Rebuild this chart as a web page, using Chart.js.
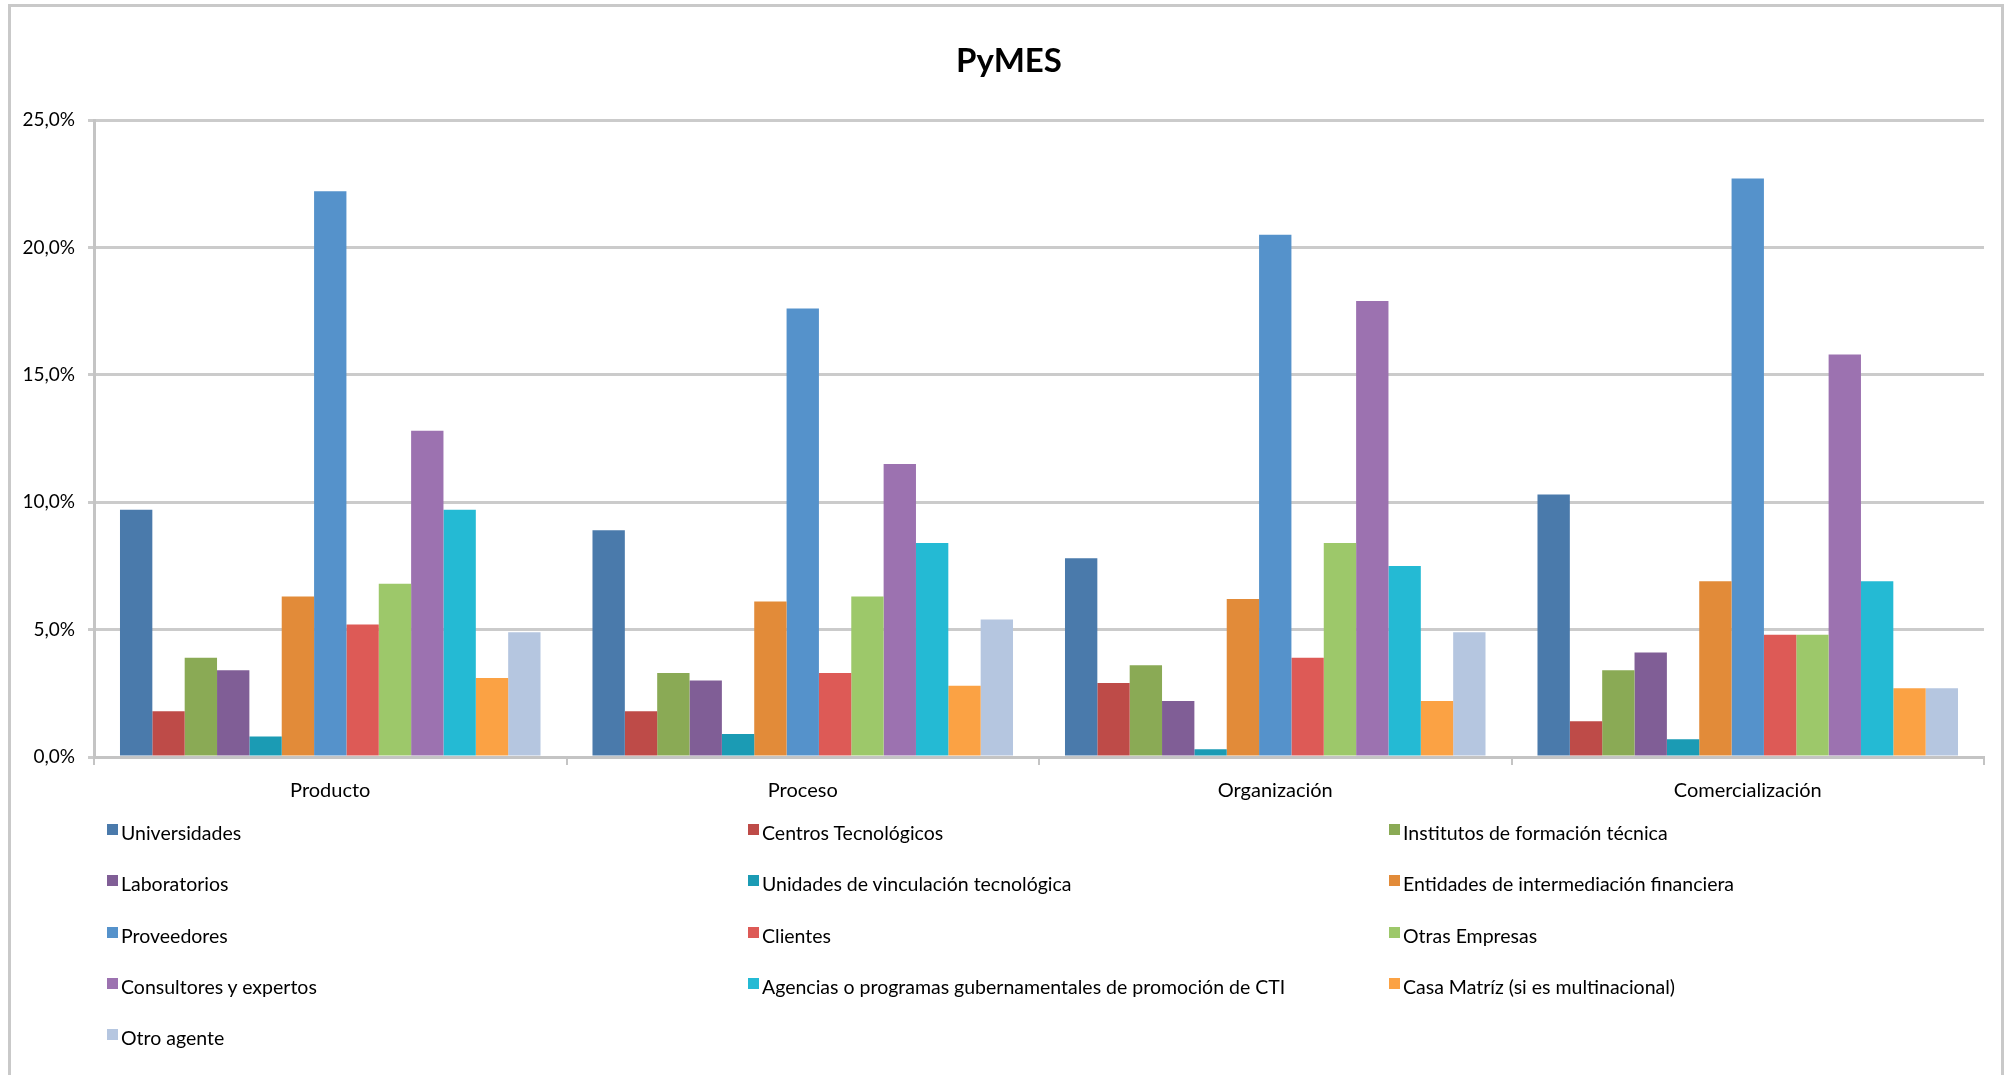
<!DOCTYPE html>
<html>
<head>
<meta charset="utf-8">
<script src="https://cdn.jsdelivr.net/npm/chart.js@4.4.1/dist/chart.umd.min.js"></script>
<style>
  html, body { margin: 0; padding: 0; background: #fff; }
  body { width: 2010px; height: 1075px; position: relative; overflow: hidden; font-family: Lato, "Open Sans", sans-serif; }
  #marco { position: absolute; left: 8px; top: 4px; width: 1996px; height: 1080px; border: 3px solid #c9c9c9; border-bottom: none; box-sizing: border-box; }
  #wrap { position: absolute; left: 0; top: 0; width: 2010px; height: 814px; }
  #leyenda { position: absolute; left: 107px; top: 807px; display: grid; grid-template-columns: repeat(3, 641px); grid-auto-rows: 51.3px; }
  .item { display: flex; align-items: center; font-size: 19.5px; color: #000; white-space: nowrap; }
  .caja { width: 11px; height: 11px; margin-right: 3px; margin-top: -6px; flex: none; }
</style>
</head>
<body>
<div id="marco"></div>
<div id="wrap"><canvas id="grafico"></canvas></div>
<div id="leyenda"></div>
<script>
// categorias (eje x)
const categorias = ['Producto', 'Proceso', 'Organización', 'Comercialización'];

// agentes de vinculacion (series)
const agentes = [
  'Universidades', 'Centros Tecnológicos', 'Institutos de formación técnica',
  'Laboratorios', 'Unidades de vinculación tecnológica', 'Entidades de intermediación financiera',
  'Proveedores', 'Clientes', 'Otras Empresas',
  'Consultores y expertos', 'Agencias o programas gubernamentales de promoción de CTI', 'Casa Matríz (si es multinacional)',
  'Otro agente'
];

// valores en % por agente: [Producto, Proceso, Organización, Comercialización]
const universidades = [9.7, 8.9, 7.8, 10.3];
const centrosTecnologicos = [1.8, 1.8, 2.9, 1.4];
const institutos = [3.9, 3.3, 3.6, 3.4];
const laboratorios = [3.4, 3.0, 2.2, 4.1];
const unidadesVinculacion = [0.8, 0.9, 0.3, 0.7];
const entidadesFinancieras = [6.3, 6.1, 6.2, 6.9];
const proveedores = [22.2, 17.6, 20.5, 22.7];
const clientes = [5.2, 3.3, 3.9, 4.8];
const otrasEmpresas = [6.8, 6.3, 8.4, 4.8];
const consultores = [12.8, 11.5, 17.9, 15.8];
const agencias = [9.7, 8.4, 7.5, 6.9];
const casaMatriz = [3.1, 2.8, 2.2, 2.7];
const otroAgente = [4.9, 5.4, 4.9, 2.7];

// ticks del eje y
const ticksY = [0, 5, 10, 15, 20, 25];

const series = [universidades, centrosTecnologicos, institutos, laboratorios, unidadesVinculacion,
  entidadesFinancieras, proveedores, clientes, otrasEmpresas, consultores, agencias, casaMatriz, otroAgente];

const colores = ['#4a7aab', '#be4b48', '#8aaa55', '#805e96', '#1b9bb4', '#e28b39',
  '#5592cb', '#dd5a56', '#9dc86a', '#9c72b0', '#24bad4', '#fba244', '#b5c6e0'];

const fuente = 'Lato, "Open Sans", sans-serif';

// titulo dibujado a mano, centrado en la pagina (no en el area del grafico)
const tituloPlugin = {
  id: 'tituloPyMES',
  afterDraw(chart) {
    const ctx = chart.ctx;
    ctx.save();
    ctx.font = 'bold 33px ' + fuente;
    ctx.fillStyle = '#000';
    ctx.textAlign = 'center';
    ctx.textBaseline = 'middle';
    ctx.fillText('PyMES', 1009, 61);
    ctx.restore();
  }
};

const grafico = new Chart(document.getElementById('grafico'), {
  type: 'bar',
  data: {
    labels: categorias,
    datasets: agentes.map((nombre, i) => ({
      label: nombre,
      data: series[i],
      backgroundColor: colores[i],
      borderWidth: 0,
      barPercentage: 1.0,
      categoryPercentage: 0.89
    }))
  },
  options: {
    responsive: true,
    maintainAspectRatio: false,
    animation: false,
    layout: { padding: { left: 0, right: 26, top: 120, bottom: 0 } },
    plugins: {
      legend: { display: false }, // leyenda en html abajo
      tooltip: { enabled: false },
      title: { display: false }
    },
    scales: {
      x: {
        grid: { offset: true, drawOnChartArea: false, drawTicks: true, tickLength: 8, color: '#c4c4c4', lineWidth: 2 },
        border: { color: '#c4c4c4', width: 3 },
        ticks: { color: '#000', font: { family: fuente, size: 20 }, padding: 14 },
        afterFit: (eje) => { eje.height = 57; }
      },
      y: {
        min: 0,
        max: 25,
        afterBuildTicks: (eje) => { eje.ticks = ticksY.map(v => ({ value: v })); },
        grid: { color: '#cbcbcb', lineWidth: 3, tickLength: 6 },
        border: { color: '#c4c4c4', width: 3 },
        ticks: {
          color: '#000',
          font: { family: fuente, size: 19 },
          padding: 13,
          callback: (v) => v.toFixed(1).replace('.', ',') + '%'
        },
        afterFit: (eje) => { eje.width = 94; }
      }
    }
  },
  plugins: [tituloPlugin]
});

// leyenda en 3 columnas, como en el original
const leyenda = document.getElementById('leyenda');
grafico.data.datasets.forEach((ds) => {
  const item = document.createElement('div');
  item.className = 'item';
  const caja = document.createElement('span');
  caja.className = 'caja';
  caja.style.background = ds.backgroundColor;
  const texto = document.createElement('span');
  texto.textContent = ds.label;
  item.appendChild(caja);
  item.appendChild(texto);
  leyenda.appendChild(item);
});
</script>
</body>
</html>
